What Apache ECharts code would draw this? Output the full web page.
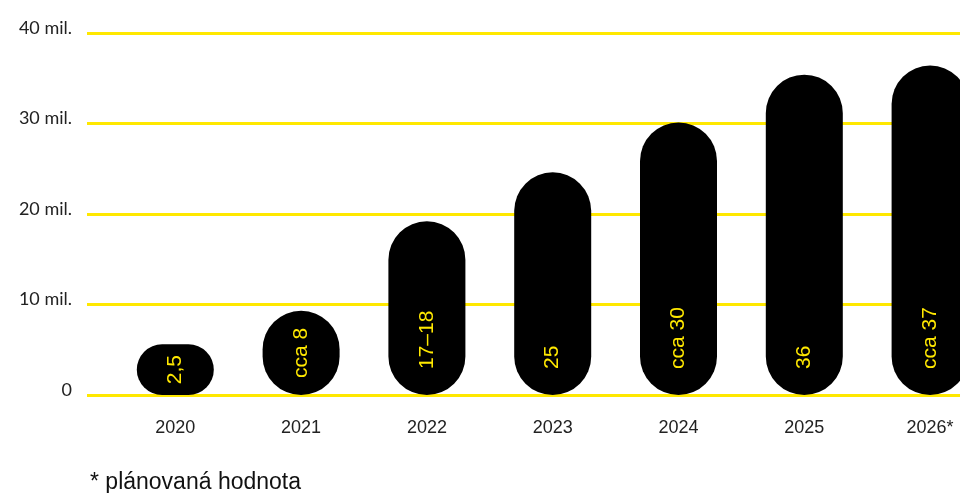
<!DOCTYPE html>
<html>
<head>
<meta charset="utf-8">
<script src="https://cdn.jsdelivr.net/npm/echarts@6/dist/echarts.min.js"></script>
<style>
html,body{margin:0;padding:0;background:#fff;}
#c{width:960px;height:493px;}
</style>
</head>
<body>
<div id="c"></div>
<script>
// Data (millions)
const years = ['2020', '2021', '2022', '2023', '2024', '2025', '2026*'];
const barHeights = [5.6, 9.3, 19.2, 24.6, 30.1, 35.4, 36.4];
const barLabels = ['2,5', 'cca 8', '17–18', '25', 'cca 30', '36', 'cca 37'];
const yTickValues = [0, 10, 20, 30, 40];
const yTickLabels = ['0', '10 mil.', '20 mil.', '30 mil.', '40 mil.'];
const footnote = '* plánovaná hodnota';

const YELLOW = '#FFE800';
const chart = echarts.init(document.getElementById('c'), null, {renderer: 'canvas'});

const barData = barHeights.map((v, i) => {
  const centered = v < 10;
  return {
    value: v,
    label: centered
      ? {position: 'inside', rotate: 90, align: 'center', verticalAlign: 'middle'}
      : {position: 'insideBottom', distance: 26, rotate: 90, align: 'left', verticalAlign: 'middle'}
  };
});

chart.setOption({
  animation: false,
  backgroundColor: '#fff',
  grid: [
    {left: 87, right: 0, top: 33, bottom: 98, containLabel: false, outerBoundsMode: 'none'},
    {left: 112.4, right: -33, top: 33, bottom: 98, containLabel: false, outerBoundsMode: 'none'}
  ],
  xAxis: [
    {gridIndex: 0, type: 'category', data: years, show: false},
    {
      gridIndex: 1, type: 'category', data: years,
      axisLine: {show: false}, axisTick: {show: false},
      axisLabel: {color: '#222', fontSize: 18, fontFamily: 'Liberation Sans, Arial, sans-serif', margin: 24}
    }
  ],
  yAxis: [
    {
      gridIndex: 0, type: 'value', min: 0, max: 40, interval: 10,
      axisLine: {show: false}, axisTick: {show: false},
      splitLine: {show: true, lineStyle: {color: YELLOW, width: 3}},
      axisLabel: {
        color: '#222', fontSize: 18, fontFamily: 'Lato, Liberation Sans, sans-serif',
        margin: 15, verticalAlign: 'bottom', lineHeight: 10,
        formatter: v => yTickLabels[yTickValues.indexOf(v)]
      }
    },
    {gridIndex: 1, type: 'value', min: 0, max: 40, interval: 10, show: false, splitLine: {show: false}}
  ],
  series: [
    {
      type: 'bar', xAxisIndex: 1, yAxisIndex: 1,
      data: barData,
      barWidth: 77,
      itemStyle: {color: '#000', borderRadius: 38.5},
      label: {
        show: true, color: YELLOW, fontSize: 21,
        fontFamily: 'Liberation Sans, Arial, sans-serif',
        formatter: p => barLabels[p.dataIndex]
      },
      z: 5
    }
  ],
  graphic: [
    {
      type: 'text', left: 90, top: 471,
      style: {text: footnote, fill: '#111', fontSize: 23, fontFamily: 'Liberation Sans, Arial, sans-serif'}
    }
  ]
});
</script>
</body>
</html>
